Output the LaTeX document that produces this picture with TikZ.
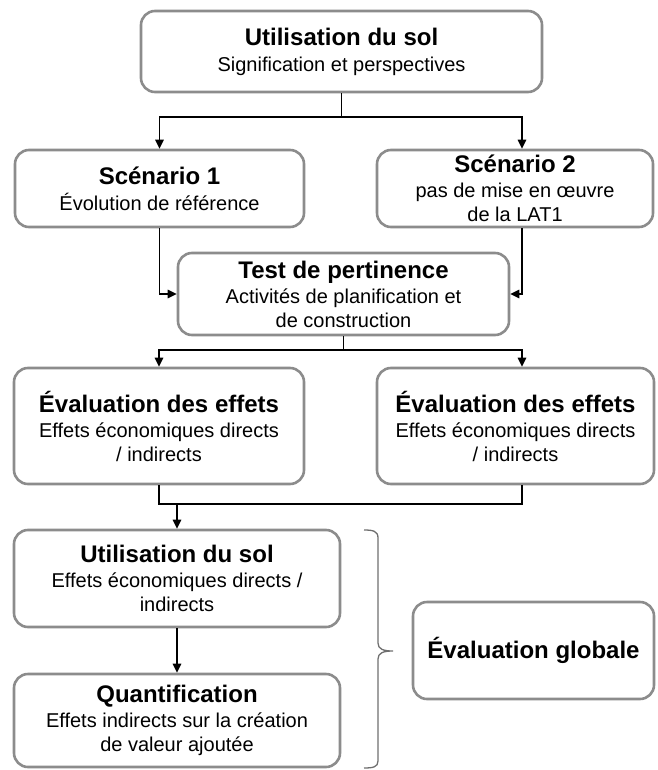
\documentclass[tikz,border=0pt]{standalone}
\usepackage{fontspec}
\setmainfont{Liberation Sans}
\usetikzlibrary{arrows.meta}
\newcommand\ttl{\fontsize{24}{27}\selectfont\bfseries}
\definecolor{boxgray}{RGB}{140,140,140}
\definecolor{bracegray}{RGB}{110,110,110}
\tikzset{
  boxnode/.style={draw=boxgray, line width=2.6pt, rounded corners=14pt, fill=white,
    align=center, inner sep=2pt, font=\fontsize{20}{24}\selectfont},
  conn/.style={line width=1.4pt, black},
  arr/.style={conn, -{Triangle[length=9pt,width=8.5pt]}},
}
\begin{document}
\begin{tikzpicture}[x=1pt,y=-1pt]
\useasboundingbox (0,0) rectangle (657,770);

\node[boxnode, minimum width=401pt, minimum height=81pt] (top) at (341.5,51.5)
  {{\ttl Utilisation du sol}\\[2pt]Signification et perspectives};
\node[boxnode, minimum width=289pt, minimum height=77pt] (s1) at (159.5,188.5)
  {{\ttl Scénario 1}\\[2pt]Évolution de référence};
\node[boxnode, minimum width=276pt, minimum height=77pt] (s2) at (515,188.5)
  {{\ttl Scénario 2}\\[1pt]pas de mise en œuvre\\de la LAT1};
\node[boxnode, minimum width=331pt, minimum height=82pt] (test) at (343.5,294)
  {{\ttl Test de pertinence}\\[1pt]Activités de planification et\\de construction};
\node[boxnode, minimum width=290pt, minimum height=116pt] (e1) at (159,426)
  {{\ttl Évaluation des effets}\\[1pt]Effets économiques directs\\/ indirects};
\node[boxnode, minimum width=277pt, minimum height=116pt] (e2) at (515.5,426)
  {{\ttl Évaluation des effets}\\[1pt]Effets économiques directs\\/ indirects};
\node[boxnode, minimum width=326pt, minimum height=97pt] (util) at (177,578.5)
  {{\ttl Utilisation du sol}\\[1pt]Effets économiques directs /\\indirects};
\node[boxnode, minimum width=326pt, minimum height=93pt] (quant) at (177,720.5)
  {{\ttl Quantification}\\[1pt]Effets indirects sur la création\\de valeur ajoutée};
\node[boxnode, minimum width=241pt, minimum height=97pt] (glob) at (533.5,650.5)
  {{\ttl Évaluation globale}};

% top -> scenarios
\coordinate (j1) at (341.5,117);
\draw[conn] (top.south) -- (j1);
\draw[arr] (j1) -| (s1.north);
\draw[arr] (j1) -| ([xshift=7pt]s2.north);

% scenarios -> test
\draw[arr] (s1.south) |- (test.west);
\draw[arr] ([xshift=7pt]s2.south) |- (test.east);

% test -> evaluations
\coordinate (j2) at (343.5,350);
\draw[conn] (test.south) -- (j2);
\draw[arr] (j2) -| (e1.north);
\draw[arr] (j2) -| ([xshift=6.5pt]e2.north);

% evaluations -> utilisation
\coordinate (j3) at (177,504);
\draw[conn] (e1.south) |- (j3);
\draw[conn] ([xshift=6.5pt]e2.south) |- (j3);
\draw[arr] (j3) -- (util.north);

% utilisation -> quantification
\draw[arr] (util.south) -- (quant.north);

% brace
\draw[bracegray, line width=1.3pt]
  (364,530) .. controls (373,530) and (378,531) .. (378,538)
  -- (378,643) .. controls (378,649) and (383,651) .. (393,651)
  .. controls (383,651) and (378,653) .. (378,659)
  -- (378,761) .. controls (378,767) and (373,768) .. (364,768);
\end{tikzpicture}
\end{document}
